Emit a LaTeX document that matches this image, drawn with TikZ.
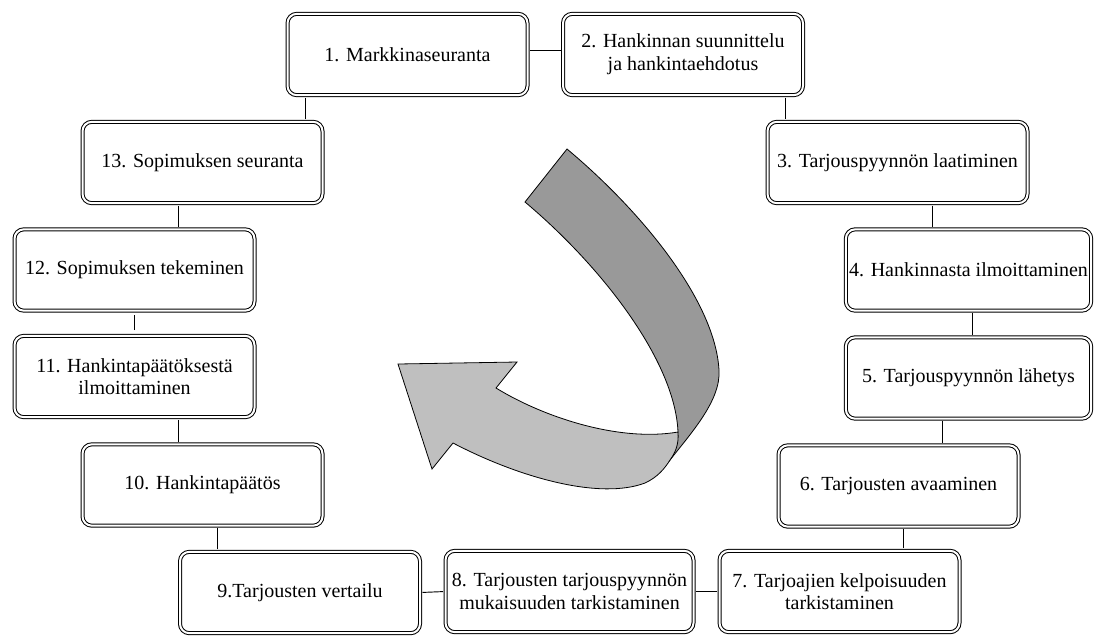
\documentclass[tikz,border=0pt]{standalone}
\usepackage{fontspec}
\setmainfont{Liberation Serif}
\begin{document}
\begin{tikzpicture}[
        x=0.75pt, y=-0.75pt,
        box/.style={draw, double, double distance=1.5pt, line width=0.75pt, rounded corners=7pt, align=center, minimum height=61pt, minimum width=180pt, inner sep=2pt, font=\fontsize{15}{17}\selectfont},
        link/.style={line width=0.7pt, shorten <=1.5pt, shorten >=1.5pt},
        back/.style={draw, line width=0.6pt, fill=black!40},
        front/.style={draw, line width=0.6pt, fill=black!25}
    ]
    \useasboundingbox (0,0) rectangle (1095,637);

    % ribbon arrow in the middle
    \path[back] (567,149) .. controls (640,210) and (715,300) .. (719,370)
        .. controls (721,400) and (692,432) .. (670,460)
        -- (678,432) .. controls (675,360) and (600,265) .. (525,202) -- cycle;
    \path[front] (678,432) .. controls (620,442) and (545,418) .. (496,388)
        -- (517,362) -- (398,364) -- (432,469) -- (453,443)
        .. controls (520,478) and (600,500) .. (645,483)
        .. controls (658,477) and (665,468) .. (670,460)
        .. controls (675,453) and (679,445) .. (678,432) -- cycle;

    \node[box] (s1) at (407.5,54.5) {1. Markkinaseuranta};
    \node[box] (s2) at (683,54.5) {2. Hankinnan suunnittelu\\ ja hankintaehdotus};
    \node[box, minimum width=195pt] (s3) at (897.5,162.5) {3. Tarjouspyynnön laatiminen};
    \node[box, minimum width=184pt] (s4) at (968.5,270) {4. Hankinnasta ilmoittaminen};
    \node[box, minimum width=184pt] (s5) at (968.5,378) {5. Tarjouspyynnön lähetys};
    \node[box] (s6) at (898.5,486) {6. Tarjousten avaaminen};
    \node[box] (s7) at (839.5,591.5) {7. Tarjoajien kelpoisuuden\\ tarkistaminen};
    \node[box, minimum width=186pt] (s8) at (569.5,591.5) {8. Tarjousten tarjouspyynnön\\ mukaisuuden tarkistaminen};
    \node[box] (s9) at (300,592.5) {9.Tarjousten vertailu};
    \node[box] (s10) at (202.5,485) {10. Hankintapäätös};
    \node[box] (s11) at (134.5,376.5) {11. Hankintapäätöksestä\\ ilmoittaminen};
    \node[box] (s12) at (134.5,270) {12. Sopimuksen tekeminen};
    \node[box] (s13) at (202.5,162.5) {13. Sopimuksen seuranta};

    \draw[link] ([yshift=3pt]s1.east) -- ([yshift=3pt]s1.east -| s2.west);
    \draw[link] (s2.south -| 785,0) -- (s3.north -| 785,0);
    \draw[link] (s3.south -| 932,0) -- (s4.north -| 932,0);
    \draw[link] (s4.south -| 972,0) -- (s5.north -| 972,0);
    \draw[link] (s5.south -| 942,0) -- (s6.north -| 942,0);
    \draw[link] (s6.south -| 903,0) -- (s7.north -| 903,0);
    \draw[link] (s7.west) -- (s8.east);
    \draw[link] (s8.west) -- (s9.east);
    \draw[link] (s9.north -| 217,0) -- (s10.south -| 217,0);
    \draw[link] (s10.north -| 178,0) -- (s11.south -| 178,0);
    \draw[link, shorten <=4pt, shorten >=3pt] (s11.north) -- (s12.south);
    \draw[link] (s12.north -| 178,0) -- (s13.south -| 178,0);
    \draw[link] (s13.north -| 305,0) -- (s1.south -| 305,0);
\end{tikzpicture}
\end{document}
